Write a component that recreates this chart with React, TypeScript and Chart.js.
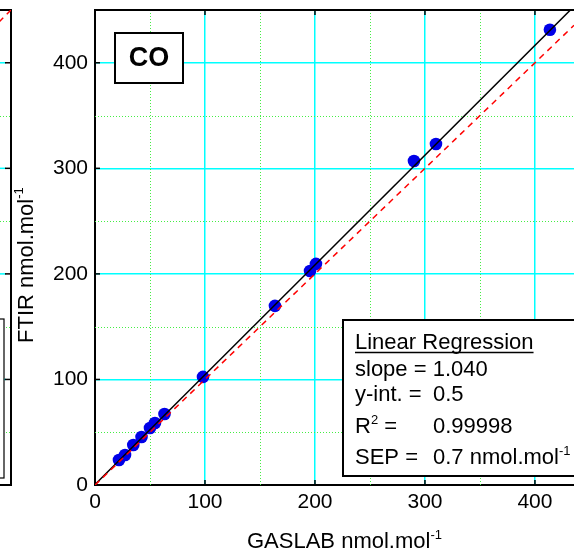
import React, { useEffect, useRef } from 'react';
import { Chart, registerables } from 'chart.js';

Chart.register(...registerables);

// ---- data ----
const gaslab = [21.8, 27.3, 34.8, 42.3, 50, 54.5, 63.2, 98.2, 163.6, 195.5, 200.9, 290, 310, 413.6];
const ftir = [23.7, 28.4, 37.9, 45.5, 54, 58.8, 67.3, 102.4, 169.7, 202.8, 209.5, 307, 323, 431.3];

// regression line (slope 1.040, intercept 0.5) end points
const fitX = [0, 435.5];
const fitY = [0.5, 453.4];
// 1:1 line end points
const oneX = [0, 435.5];
const oneY = [0, 435.5];

const majorTicks = [100, 200, 300, 400];
const minorTicks = [50, 150, 250, 350];

const X_MAX = 435.5;
const Y_MAX = 450;

const panelLabel = 'CO';
const regTitle = 'Linear Regression';
const regSlope = '1.040';
const regIntercept = '0.5';
const regR2 = '0.99998';
const regSep = '0.7';

const FONT = "'Liberation Sans', Arial, Helvetica, sans-serif";
const CYAN = '#00ffff';
const GREEN = '#44ee44';

type Part = { t: string; sup?: boolean };

function drawRich(ctx: CanvasRenderingContext2D, x: number, y: number, parts: Part[], size: number) {
  let cx = x;
  for (const p of parts) {
    const s = p.sup ? Math.round(size * 0.6) : size;
    ctx.font = `${s}px ${FONT}`;
    ctx.fillText(p.t, cx, p.sup ? y - size * 0.42 : y);
    cx += ctx.measureText(p.t).width;
  }
  return cx - x;
}

function seg(ctx: CanvasRenderingContext2D, x1: number, y1: number, x2: number, y2: number) {
  ctx.beginPath();
  ctx.moveTo(x1, y1);
  ctx.lineTo(x2, y2);
  ctx.stroke();
}

const decor = {
  id: 'decor',
  beforeDatasetsDraw(chart: any) {
    const { ctx, chartArea: ca, scales } = chart;
    const x = scales.x;
    const y = scales.y;
    ctx.save();
    // minor dotted grid
    ctx.strokeStyle = GREEN;
    ctx.lineWidth = 1;
    ctx.setLineDash([1, 2]);
    for (const v of minorTicks) {
      const px = Math.round(x.getPixelForValue(v)) + 0.5;
      seg(ctx, px, ca.top, px, ca.bottom);
      const py = Math.round(y.getPixelForValue(v)) + 0.5;
      seg(ctx, ca.left, py, ca.right, py);
      // left fragment (neighbouring panel)
      seg(ctx, 0, py, 10, py);
    }
    ctx.setLineDash([]);
    // left fragment cyan grid
    ctx.strokeStyle = CYAN;
    ctx.lineWidth = 1.5;
    for (const v of majorTicks) {
      const py = y.getPixelForValue(v);
      seg(ctx, 0, py, 6, py);
    }
    // inward tick marks
    ctx.strokeStyle = '#000';
    ctx.lineWidth = 1.5;
    for (const v of majorTicks) {
      const px = x.getPixelForValue(v);
      seg(ctx, px, ca.bottom, px, ca.bottom - 5);
      seg(ctx, px, ca.top, px, ca.top + 5);
      const py = y.getPixelForValue(v);
      seg(ctx, ca.left, py, ca.left + 5, py);
      seg(ctx, 5, py, 11, py);
    }
    ctx.restore();
  },
  afterDatasetsDraw(chart: any) {
    const { ctx, chartArea: ca } = chart;
    ctx.save();
    ctx.fillStyle = '#000';
    ctx.strokeStyle = '#000';
    ctx.textBaseline = 'alphabetic';
    ctx.textAlign = 'left';

    // top border
    ctx.lineWidth = 2;
    seg(ctx, ca.left - 1, ca.top, ca.right + 2, ca.top);

    // left fragment of neighbouring panel
    seg(ctx, 11, ca.top, 11, ca.bottom + 1);
    seg(ctx, 0, ca.top, 12, ca.top);
    seg(ctx, 0, ca.bottom, 12, ca.bottom);
    ctx.save();
    ctx.beginPath();
    ctx.rect(0, ca.top, 11, ca.bottom - ca.top);
    ctx.clip();
    ctx.strokeStyle = '#ff0000';
    ctx.lineWidth = 1.5;
    ctx.setLineDash([6, 5]);
    seg(ctx, 11, ca.top, -20, ca.top + 31);
    ctx.restore();
    ctx.fillStyle = '#fff';
    ctx.fillRect(-10, 319, 14, 159);
    ctx.lineWidth = 1.2;
    ctx.strokeRect(-10, 319, 14, 159);
    ctx.fillStyle = '#000';

    // panel label box
    ctx.fillStyle = '#fff';
    ctx.fillRect(115, 33, 68, 50);
    ctx.lineWidth = 2;
    ctx.strokeRect(115, 33, 68, 50);
    ctx.fillStyle = '#000';
    ctx.font = `bold 27px ${FONT}`;
    ctx.textAlign = 'center';
    ctx.textBaseline = 'middle';
    ctx.fillText(panelLabel, 149, 59);
    ctx.textAlign = 'left';
    ctx.textBaseline = 'alphabetic';

    // regression box
    ctx.fillStyle = '#fff';
    ctx.fillRect(343, 320, 260, 156);
    ctx.lineWidth = 2;
    ctx.strokeRect(343, 320, 260, 156);
    ctx.fillStyle = '#000';
    const fs = 22;
    const lx = 355;
    const vx = 433;
    const w = drawRich(ctx, lx, 349, [{ t: regTitle }], fs);
    ctx.lineWidth = 1.5;
    seg(ctx, lx, 352.5, lx + w, 352.5);
    drawRich(ctx, lx, 376, [{ t: 'slope = ' + regSlope }], fs);
    drawRich(ctx, lx, 401, [{ t: 'y-int. =' }], fs);
    drawRich(ctx, vx, 401, [{ t: regIntercept }], fs);
    drawRich(ctx, lx, 433, [{ t: 'R' }, { t: '2', sup: true }, { t: ' =' }], fs);
    drawRich(ctx, vx, 433, [{ t: regR2 }], fs);
    drawRich(ctx, lx, 464, [{ t: 'SEP =' }], fs);
    drawRich(ctx, vx, 464, [{ t: regSep + ' nmol.mol' }, { t: '-1', sup: true }], fs);

    // axis titles
    drawRich(ctx, 247, 548, [{ t: 'GASLAB nmol.mol' }, { t: '-1', sup: true }], 22);
    ctx.save();
    ctx.translate(32.5, 343);
    ctx.rotate(-Math.PI / 2);
    drawRich(ctx, 0, 0, [{ t: 'FTIR nmol.mol' }, { t: '-1', sup: true }], 22);
    ctx.restore();

    ctx.restore();
  },
};

export default function App() {
  const ref = useRef<HTMLCanvasElement>(null);
  useEffect(() => {
    if (!ref.current) return;
    const gridColor = (c: any) => (c.tick && c.tick.value === 0 ? 'rgba(0,0,0,0)' : CYAN);
    const chart = new Chart(ref.current, {
      type: 'scatter',
      data: {
        datasets: [
          {
            label: '1:1',
            data: oneX.map((v, i) => ({ x: v, y: oneY[i] })),
            showLine: true,
            borderColor: '#ff0000',
            borderWidth: 1.5,
            borderDash: [6, 5],
            pointRadius: 0,
            pointHoverRadius: 0,
          },
          {
            label: 'fit',
            data: fitX.map((v, i) => ({ x: v, y: fitY[i] })),
            showLine: true,
            borderColor: '#000000',
            borderWidth: 1.5,
            pointRadius: 0,
            pointHoverRadius: 0,
          },
          {
            label: 'CO',
            data: gaslab.map((v, i) => ({ x: v, y: ftir[i] })),
            pointRadius: 6.3,
            pointHoverRadius: 6.3,
            backgroundColor: '#0000e8',
            borderWidth: 0,
          },
        ],
      },
      options: {
        animation: false,
        responsive: false,
        devicePixelRatio: 1,
        events: [],
        layout: { autoPadding: false, padding: { top: 10, left: 0, right: 0, bottom: 0 } },
        plugins: { legend: { display: false }, tooltip: { enabled: false } },
        scales: {
          x: {
            type: 'linear',
            min: 0,
            max: X_MAX,
            afterFit: (s: any) => {
              s.height = 66;
              s.paddingLeft = 0;
              s.paddingRight = 0;
            },
            ticks: {
              stepSize: 100,
              includeBounds: false,
              padding: 5,
              color: '#000',
              font: { size: 21, family: FONT },
              maxRotation: 0,
            },
            grid: { color: gridColor, lineWidth: 1.5, drawTicks: false },
            border: { color: '#000', width: 2 },
          },
          y: {
            type: 'linear',
            min: 0,
            max: Y_MAX,
            afterFit: (s: any) => {
              s.width = 95;
              s.paddingTop = 0;
              s.paddingBottom = 0;
            },
            ticks: {
              stepSize: 100,
              includeBounds: false,
              padding: 7,
              color: '#000',
              font: { size: 21, family: FONT },
            },
            grid: { color: gridColor, lineWidth: 1.5, drawTicks: false },
            border: { color: '#000', width: 2 },
          },
        },
      },
      plugins: [decor],
    } as any);
    return () => chart.destroy();
  }, []);
  return (
    <div style={{ position: 'absolute', left: 0, top: 0, width: 574, height: 551, background: '#fff' }}>
      <canvas ref={ref} width={574} height={551} style={{ display: 'block', width: 574, height: 551 }} />
    </div>
  );
}
